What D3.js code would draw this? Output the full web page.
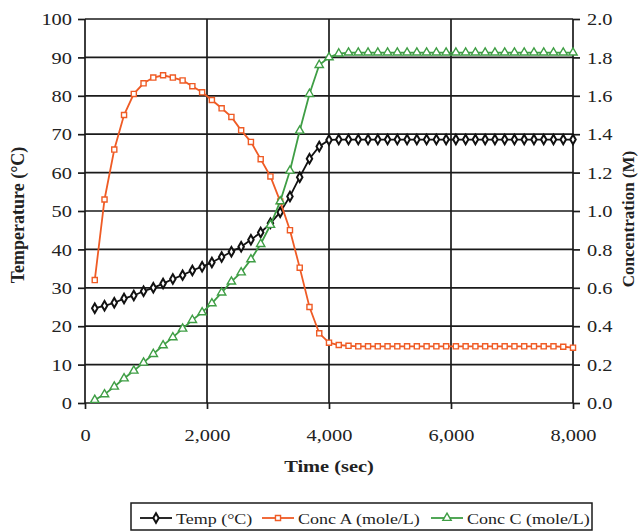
<!DOCTYPE html>
<html>
<head>
<meta charset="utf-8">
<script src="https://cdn.jsdelivr.net/npm/d3@7"></script>
<style>
  body { margin: 0; background: #fff; }
  text { font-family: "Liberation Serif", "Times New Roman", serif; fill: #222; }
</style>
</head>
<body>
<div id="chart"></div>
<script>
var svgWidth = 639;
var svgHeight = 531;

var margin = { top: 19, right: 66, bottom: 128, left: 85 };
var width = svgWidth - margin.left - margin.right;
var height = svgHeight - margin.top - margin.bottom;

// data
var times = [160, 320, 480, 640, 800, 960, 1120, 1280, 1440, 1600,
  1760, 1920, 2080, 2240, 2400, 2560, 2720, 2880, 3040, 3200,
  3360, 3520, 3680, 3840, 4000, 4160, 4320, 4480, 4640, 4800,
  4960, 5120, 5280, 5440, 5600, 5760, 5920, 6080, 6240, 6400,
  6560, 6720, 6880, 7040, 7200, 7360, 7520, 7680, 7840, 8000];

var temp = [24.7, 25.3, 26.1, 27.2, 28.0, 29.1, 30.0, 31.1, 32.3, 33.3,
  34.5, 35.5, 36.6, 38.0, 39.4, 40.7, 42.5, 44.4, 46.8, 49.7,
  53.8, 58.8, 63.6, 66.8, 68.5, 68.6, 68.6, 68.6, 68.6, 68.6,
  68.6, 68.6, 68.6, 68.6, 68.6, 68.6, 68.6, 68.6, 68.6, 68.6,
  68.6, 68.6, 68.6, 68.6, 68.6, 68.6, 68.6, 68.6, 68.6, 68.6];

var concA = [0.64, 1.06, 1.32, 1.50, 1.61, 1.665, 1.695, 1.707, 1.695, 1.68,
  1.65, 1.618, 1.578, 1.535, 1.49, 1.42, 1.36, 1.27, 1.18, 1.05,
  0.90, 0.705, 0.50, 0.363, 0.314, 0.302, 0.298, 0.295, 0.295, 0.295,
  0.295, 0.295, 0.295, 0.295, 0.295, 0.295, 0.295, 0.295, 0.295, 0.295,
  0.295, 0.295, 0.295, 0.295, 0.295, 0.295, 0.295, 0.295, 0.293, 0.288];

var concC = [0.016, 0.045, 0.085, 0.128, 0.168, 0.21, 0.255, 0.30, 0.342, 0.387,
  0.432, 0.472, 0.519, 0.575, 0.632, 0.68, 0.748, 0.828, 0.927, 1.05,
  1.21, 1.418, 1.609, 1.76, 1.80, 1.82, 1.825, 1.825, 1.825, 1.825,
  1.825, 1.825, 1.825, 1.825, 1.825, 1.825, 1.825, 1.825, 1.825, 1.825,
  1.825, 1.825, 1.825, 1.825, 1.825, 1.825, 1.825, 1.825, 1.825, 1.825];

var xTicks = [0, 2000, 4000, 6000, 8000];
var leftTicks = [0, 10, 20, 30, 40, 50, 60, 70, 80, 90, 100];
var rightTicks = [0, 0.2, 0.4, 0.6, 0.8, 1.0, 1.2, 1.4, 1.6, 1.8, 2.0];

var seriesNames = ["Temp (\u00B0C)", "Conc A (mole/L)", "Conc C (mole/L)"];
var seriesColors = ["#111111", "#ef5b25", "#3f9e45"];

var sx = 1.2; // the scan is stretched sideways a bit

var svg = d3.select("#chart")
  .append("svg")
  .attr("width", svgWidth)
  .attr("height", svgHeight);

var chartGroup = svg.append("g")
  .attr("transform", `translate(${margin.left}, ${margin.top})`);

var xScale = d3.scaleLinear().domain([0, 8000]).range([0, width]);
var yLeft = d3.scaleLinear().domain([0, 100]).range([height, 0]);
var yRight = d3.scaleLinear().domain([0, 2]).range([height, 0]);

// grid
chartGroup.selectAll(".hgrid")
  .data(leftTicks)
  .enter()
  .append("line")
  .attr("x1", 0)
  .attr("x2", width)
  .attr("y1", d => yLeft(d))
  .attr("y2", d => yLeft(d))
  .attr("stroke", "#1a1a1a")
  .attr("stroke-width", 1.7);

chartGroup.selectAll(".vgrid")
  .data(xTicks)
  .enter()
  .append("line")
  .attr("x1", d => xScale(d))
  .attr("x2", d => xScale(d))
  .attr("y1", 0)
  .attr("y2", height)
  .attr("stroke", "#1a1a1a")
  .attr("stroke-width", 1.7);

// axes
var bottomAxis = d3.axisBottom(xScale).tickValues(xTicks).tickSize(6).tickFormat(d3.format(","));
var leftAxis = d3.axisLeft(yLeft).tickValues(leftTicks).tickSize(7).tickFormat(d3.format("d"));
var rightAxis = d3.axisRight(yRight).tickValues(rightTicks).tickSize(7).tickFormat(d3.format(".1f"));

function styleAxis(g) {
  g.select(".domain").remove();
  g.selectAll(".tick line").attr("stroke", "#1a1a1a").attr("stroke-width", 1.7);
  g.selectAll(".tick text").attr("font-size", 17).attr("fill", "#222");
}

var gx = chartGroup.append("g")
  .attr("transform", `translate(0, ${height})`)
  .call(bottomAxis)
  .call(styleAxis);
gx.selectAll(".tick text")
  .attr("y", 0).attr("dy", 0)
  .attr("transform", `translate(0, 38) scale(${sx}, 1)`);

var gl = chartGroup.append("g")
  .call(leftAxis)
  .call(styleAxis);
gl.selectAll(".tick text")
  .attr("x", 0).attr("dy", "0.33em")
  .attr("transform", `translate(-13, 0) scale(${sx}, 1)`);

var gr = chartGroup.append("g")
  .attr("transform", `translate(${width}, 0)`)
  .call(rightAxis)
  .call(styleAxis);
gr.selectAll(".tick text")
  .attr("x", 0).attr("dy", "0.33em")
  .attr("transform", `translate(14, 0) scale(${sx}, 1)`);

// lines
var series = [
  { name: seriesNames[0], values: temp, y: yLeft, color: seriesColors[0], shape: d3.symbolDiamond, size: 26, sw: 2 },
  { name: seriesNames[1], values: concA, y: yRight, color: seriesColors[1], shape: d3.symbolSquare, size: 26, sw: 1.4 },
  { name: seriesNames[2], values: concC, y: yRight, color: seriesColors[2], shape: d3.symbolTriangle, size: 30, sw: 1.4 }
];

series.forEach(function(s) {
  var pts = times.map((t, i) => [t, s.values[i]]);
  var line = d3.line().x(d => xScale(d[0])).y(d => s.y(d[1]));

  chartGroup.append("path")
    .datum(pts)
    .attr("d", line)
    .attr("fill", "none")
    .attr("stroke", s.color)
    .attr("stroke-width", 1.8);

  chartGroup.selectAll(null)
    .data(pts)
    .enter()
    .append("path")
    .attr("d", d3.symbol().type(s.shape).size(s.size))
    .attr("transform", d => `translate(${xScale(d[0])}, ${s.y(d[1])})`)
    .attr("fill", "#fff")
    .attr("stroke", s.color)
    .attr("stroke-width", s.sw);
});

// axis titles
svg.append("text")
  .attr("transform", `translate(329, 472) scale(${sx}, 1)`)
  .attr("text-anchor", "middle")
  .attr("font-size", 17)
  .attr("font-weight", "bold")
  .text("Time (sec)");

svg.append("text")
  .attr("transform", "translate(24, 215) rotate(-90)")
  .attr("text-anchor", "middle")
  .attr("font-size", 18)
  .attr("font-weight", "bold")
  .text("Temperature (\u00B0C)");

svg.append("text")
  .attr("transform", "translate(634, 219) rotate(-90)")
  .attr("text-anchor", "middle")
  .attr("font-size", 17)
  .attr("font-weight", "bold")
  .text("Concentration (M)");

// legend
var legend = svg.append("g");
legend.append("rect")
  .attr("x", 131)
  .attr("y", 503)
  .attr("width", 461)
  .attr("height", 27)
  .attr("fill", "#fff")
  .attr("stroke", "#1a1a1a")
  .attr("stroke-width", 1.5);

var legendX = [140, 262, 431];
series.forEach(function(s, i) {
  var g = legend.append("g").attr("transform", `translate(${legendX[i]}, 518)`);
  g.append("line")
    .attr("x1", 0).attr("x2", 32)
    .attr("stroke", s.color)
    .attr("stroke-width", 1.8);
  g.append("path")
    .attr("d", d3.symbol().type(s.shape).size(s.size)())
    .attr("transform", "translate(16, 0)")
    .attr("fill", "#fff")
    .attr("stroke", s.color)
    .attr("stroke-width", s.sw);
  g.append("text")
    .attr("transform", `translate(36, 6) scale(${sx}, 1)`)
    .attr("font-size", 15)
    .text(s.name);
});
</script>
</body>
</html>
